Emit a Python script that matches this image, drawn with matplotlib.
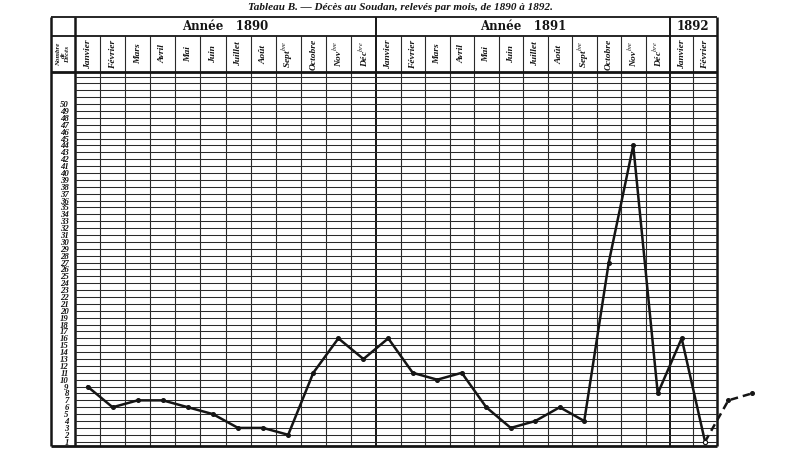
import numpy as np
import matplotlib
matplotlib.use("Agg")
import matplotlib.pyplot as plt

plt.rcParams["mathtext.fontset"] = "stix"

# deaths per month
deaths_1890 = [9, 6, 7, 7, 6, 5, 3, 3, 2, 11, 16, 13]
deaths_1891 = [16, 11, 10, 11, 6, 3, 4, 6, 4, 27, 44, 8]
deaths_1892 = [16, 1]
deaths_1892_extra = [7, 8]   # mars / avril 1892, dashed, outside the table

months = ["Janvier", "Février", "Mars", "Avril", "Mai", "Juin", "Juillet", "Août",
          r"Sept$^{bre}$", "Octobre", r"Nov$^{bre}$", r"Déc$^{bre}$"]
months_1892 = ["Janvier", "Février"]
year_titles = ["Année   1890", "Année   1891", "1892"]
y_labels = list(range(1, 51))

# layout in pixels of the 800x469 picture
W, H = 800, 469
TOP, HEAD1, HEAD2, BOTTOM = 17, 36, 72, 446
LEFT, LABEL_R, RIGHT = 51, 75, 716.7
section_edges = [75, 376, 670, 716.7]
PX_PER_UNIT = 6.89
Y_ONE = 441.7   # pixel row of value 1

serif = "Liberation Serif"
ink = "#151515"

fig = plt.figure(figsize=(W / 100, H / 100), dpi=100)
fig.patch.set_facecolor("white")

bg = fig.add_axes([0, 0, 1, 1])
bg.set_xlim(0, W)
bg.set_ylim(H, 0)
bg.axis("off")

ax = fig.add_axes([LABEL_R / W, 1 - BOTTOM / H, (RIGHT - LABEL_R) / W, (BOTTOM - HEAD2) / H])
ax.patch.set_alpha(0)
ax.set_xlim(LABEL_R, RIGHT)
ax.set_ylim(1 - (BOTTOM - Y_ONE) / PX_PER_UNIT, 1 + (Y_ONE - HEAD2) / PX_PER_UNIT)
for s in ax.spines.values():
    s.set_visible(False)
ax.set_xticks([])
ax.set_yticks(y_labels)
ax.set_yticklabels([str(v) for v in y_labels], fontsize=6.3, style="italic",
                   weight="bold", family=serif, color=ink)
ax.tick_params(axis="y", length=0, pad=4.5)

# horizontal rulings, one per unit
n_lines = int(ax.get_ylim()[1])
ax.hlines(np.arange(1, n_lines + 1), LABEL_R, RIGHT, color="#2a2a2a", lw=0.75, zorder=1)

# columns
sections = [months, months, months_1892]
centers = []
col_edges = []
for i, labels in enumerate(sections):
    e = np.linspace(section_edges[i], section_edges[i + 1], len(labels) + 1)
    col_edges.extend(e[1:-1])
    centers.extend((e[:-1] + e[1:]) / 2)
    for c, lab in zip((e[:-1] + e[1:]) / 2, labels):
        bg.text(c, (HEAD1 + HEAD2) / 2, lab, rotation=90, ha="center", va="center",
                fontsize=6.8, style="italic", weight="bold", family=serif, color=ink)
    bg.text((section_edges[i] + section_edges[i + 1]) / 2, (TOP + HEAD1) / 2 + 0.5,
            year_titles[i], ha="center", va="center", fontsize=8.5, weight="bold",
            family="DejaVu Serif", color=ink)

bg.vlines(col_edges, HEAD1, BOTTOM, color="#2a2a2a", lw=0.8)
bg.vlines(section_edges[1:3], TOP, BOTTOM, color=ink, lw=1.4)
bg.vlines([LEFT, LABEL_R, RIGHT], TOP, BOTTOM, color=ink, lw=1.8)
bg.hlines([TOP, HEAD1], LEFT, RIGHT, color=ink, lw=1.3)
bg.hlines([HEAD2, BOTTOM], LEFT, RIGHT, color=ink, lw=2)

bg.text((LEFT + LABEL_R) / 2, (HEAD1 + HEAD2) / 2 + 0.5, "Nombre\nde\nDécès", rotation=90,
        ha="center", va="center", multialignment="center", fontsize=5.0,
        style="italic", weight="bold", family=serif, color=ink, linespacing=0.85)

bg.text(400, 8, "Tableau B. — Décès au Soudan, relevés par mois, de 1890 à 1892.",
        ha="center", va="center", fontsize=8, style="italic", weight="bold",
        family=serif, color=ink)

# the curve
deaths = deaths_1890 + deaths_1891 + deaths_1892
xs = np.array(centers)
ax.plot(xs, deaths, color=ink, lw=1.8, marker="o", ms=2.6, zorder=3)
ax.plot(xs[-1], deaths[-1], marker="o", ms=3, mfc="white", mec=ink, mew=0.8, zorder=4)

step = xs[-1] - xs[-2]
x_extra = xs[-1] + step * np.arange(1, len(deaths_1892_extra) + 1)
ax.plot(np.r_[xs[-1], x_extra], [deaths[-1]] + deaths_1892_extra, color=ink, lw=1.8,
        ls=(0, (3, 2)), zorder=3, clip_on=False)
ax.plot(x_extra, deaths_1892_extra, ls="none", marker="o", ms=2.6, color=ink,
        clip_on=False, zorder=4)

fig.savefig("out.png", dpi=100)
